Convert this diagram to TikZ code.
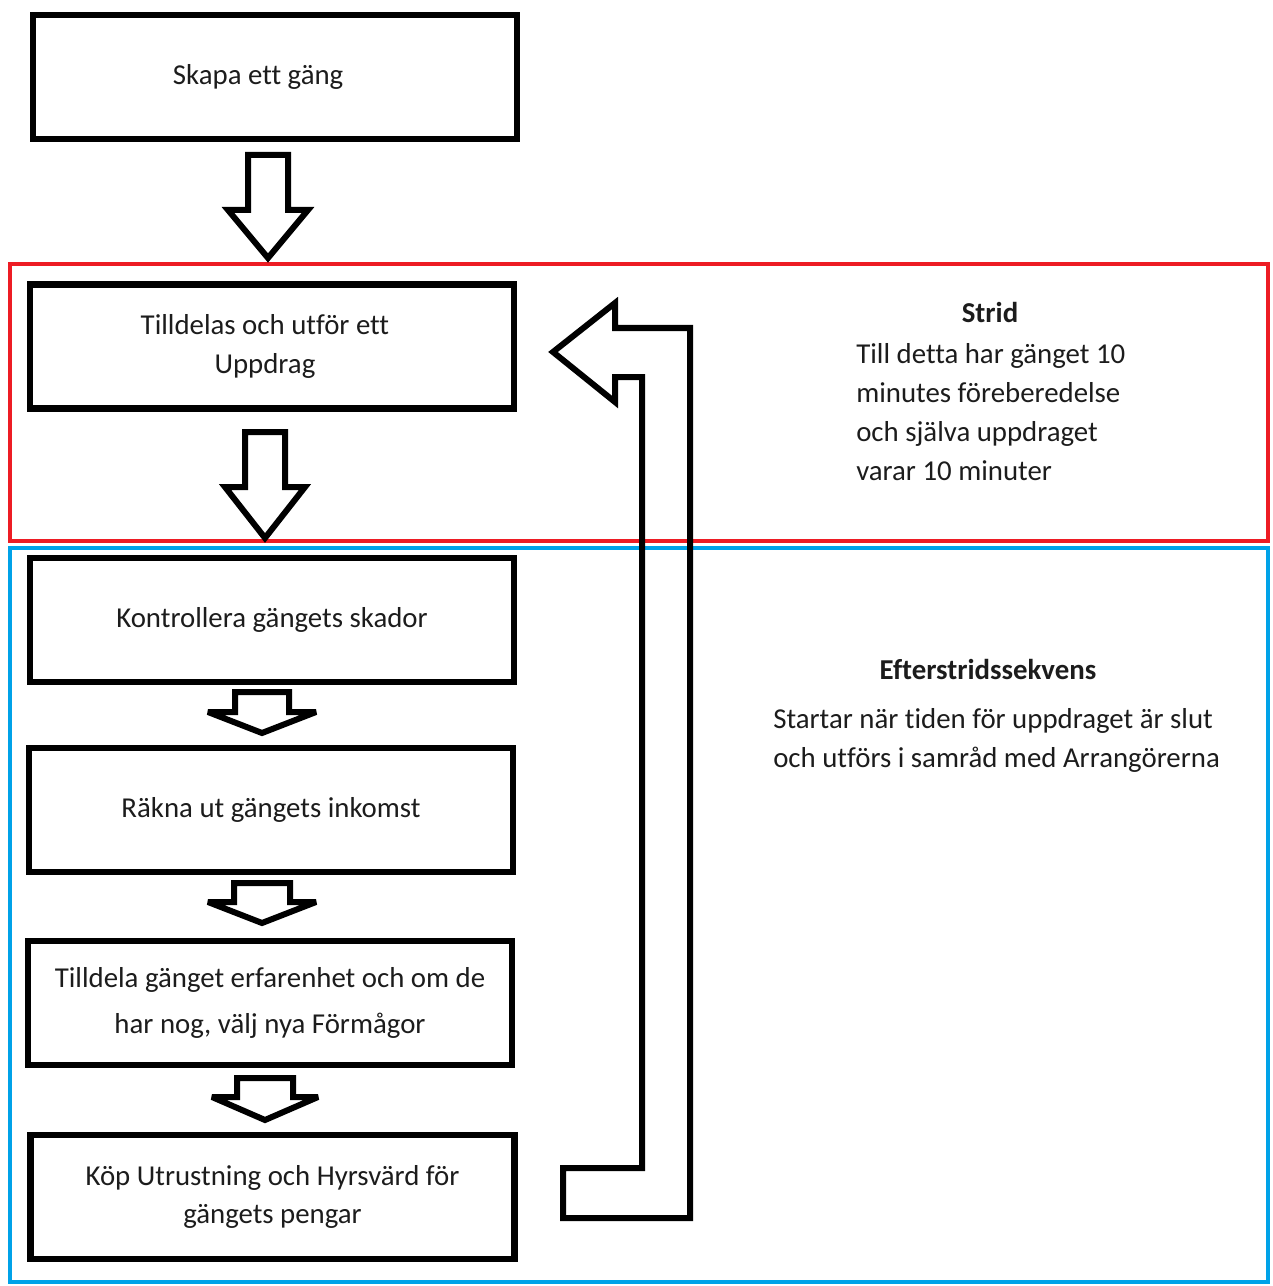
\documentclass[tikz,border=0pt]{standalone}
\usepackage{fontspec}
\setmainfont{Carlito}[Ligatures=NoCommon]
\usetikzlibrary{positioning}
\definecolor{Ink}{HTML}{000000}
\definecolor{Body}{HTML}{1C1C1C}
\definecolor{FrameRed}{HTML}{ED1C24}
\definecolor{FrameBlue}{HTML}{00A2E8}

% x, top, neck, tip, shaft half width, head half width
\newcommand{\blockdown}[6]{%
  \draw[blockarrow] (#1-#5,#2) -- (#1+#5,#2) -- (#1+#5,#3) -- (#1+#6,#3)
    -- (#1,#4) -- (#1-#6,#3) -- (#1-#5,#3) -- cycle;}

\begin{document}
\begin{tikzpicture}[
  x=0.025cm, y=-0.025cm,
  font=\fontsize{20.5}{27.5}\selectfont,
  box/.style={draw=Ink, line width=0.17cm, minimum width=12.1cm, minimum height=3.1cm, inner sep=0pt, align=center, text=Body},
  frame/.style={line width=0.1cm, minimum width=31.45cm, inner sep=0pt},
  blockarrow/.style={draw=Ink, line width=0.15cm, line join=miter, miter limit=2.5},
  title/.style={font=\fontsize{20.5}{27.5}\selectfont\bfseries, text=Body},
  note/.style={align=left, anchor=west, inner sep=0pt, text=Body, font=\fontsize{20.5}{27.7}\selectfont}
]
\useasboundingbox (0,0) rectangle (1272,1286);

% phases
\node[frame, draw=FrameRed, minimum height=6.925cm] (strid) at (639,402.5) {};
\node[frame, draw=FrameBlue, minimum height=18.35cm] (efter) at (639,915) {};

% steps
\node[box] (skapa) at (275,77) {\hspace*{-24pt}Skapa ett gäng};
\node[box] (uppdrag) at (272,346.5) {Tilldelas och utför ett\hspace*{10pt}\\Uppdrag\hspace*{10pt}};
\node[box] (skador) at (272,620) {Kontrollera gängets skador};
\node[box] (inkomst) at (271,810) {Räkna ut gängets inkomst};
\node[box] (erfarenhet) at (270,1003) {Tilldela gänget erfarenhet och om de\\[5pt]har nog, välj nya Förmågor};
\node[box] (utrustning) at (272.5,1197) {Köp Utrustning och Hyrsvärd för\\gängets pengar};

% block arrows between steps
\blockdown{268}{155}{210}{258}{20}{40}
\blockdown{265}{432}{487}{538}{20}{40}
\blockdown{262}{692}{712}{733}{27}{54}
\blockdown{262}{883}{902}{923}{28}{54}
\blockdown{265}{1078}{1097}{1120}{28}{53}

% loop back to the mission
\draw[blockarrow] (690,1218) -- (690,328) -- (615,328) -- (615,303) -- (553,352)
  -- (615,402) -- (615,377) -- (642,377) -- (642,1168) -- (563,1168) -- (563,1218) -- cycle;

% phase notes
\node[title] (stridtitle) at (990,312) {Strid};
\node[note] (stridtext) at (856,412.5) {Till detta har gänget 10\\minutes föreberedelse\\och själva uppdraget\\varar 10 minuter};
\node[title] (eftertitle) at (988,669) {Efterstridssekvens};
\node[note] (eftertext) at (773,740.5) {Startar när tiden för uppdraget är slut\\och utförs i samråd med Arrangörerna};
\end{tikzpicture}
\end{document}
